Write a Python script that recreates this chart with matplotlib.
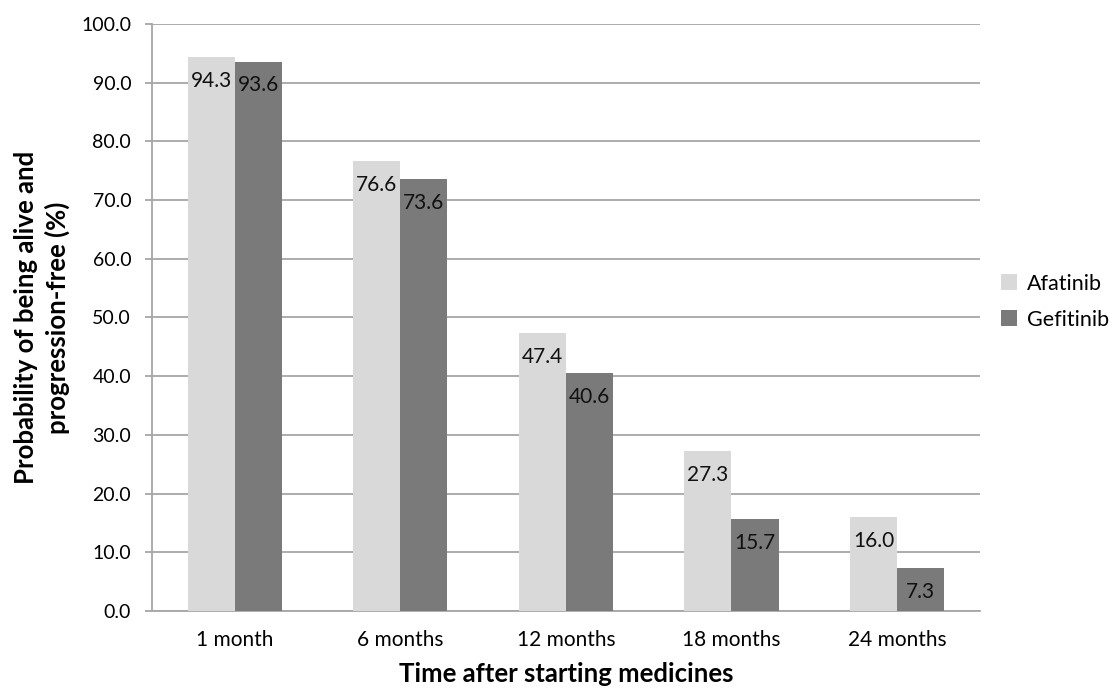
import numpy as np
import matplotlib.pyplot as plt

plt.rcParams['font.family'] = ['Lato', 'DejaVu Sans']

categories = ['1 month', '6 months', '12 months', '18 months', '24 months']
afatinib = [94.3, 76.6, 47.4, 27.3, 16.0]
gefitinib = [93.6, 73.6, 40.6, 15.7, 7.3]

fig = plt.figure(figsize=(11.16, 6.89), dpi=100)
ax = fig.add_axes([0.1362, 0.1132, 0.7418, 0.8520])

x = np.arange(len(categories))
w = 0.284
b1 = ax.bar(x - w / 2, afatinib, w, color='#d9d9d9', label='Afatinib', zorder=3)
b2 = ax.bar(x + w / 2, gefitinib, w, color='#7a7a7a', label='Gefitinib', zorder=3)

# value labels just inside the top of each bar
for bars, vals in ((b1, afatinib), (b2, gefitinib)):
    for r, v in zip(bars, vals):
        ax.annotate(f'{v:.1f}', (r.get_x() + r.get_width() / 2, v),
                    xytext=(0, -10), textcoords='offset points',
                    ha='center', va='top', fontsize=15, color='#111111', zorder=4)

ax.set_xlim(-0.5, len(categories) - 0.5)
ax.set_ylim(0, 100)
ax.set_yticks(np.arange(0, 101, 10))
ax.set_yticklabels([f'{t:.1f}' for t in np.arange(0, 101, 10)])
ax.set_xticks(x)
ax.set_xticklabels(categories)
ax.tick_params(axis='y', labelsize=14, length=5, color='#a6a6a6', width=1.3, pad=10)
ax.tick_params(axis='x', labelsize=15, length=0, pad=14)
ax.yaxis.grid(True, color='#a6a6a6', linewidth=1.3, zorder=0)
ax.set_axisbelow(True)

for s in ('top', 'right'):
    ax.spines[s].set_visible(False)
ax.spines['left'].set_color('#a6a6a6')
ax.spines['bottom'].set_color('#a6a6a6')
ax.spines['left'].set_linewidth(1.3)
ax.spines['bottom'].set_linewidth(1.3)

ax.set_xlabel('Time after starting medicines', fontsize=18.5, fontweight='bold', labelpad=8)
ax.set_ylabel('Probability of being alive and\nprogression-free (%)', fontsize=18.5,
              fontweight='bold', labelpad=8, linespacing=1.3)

ax.legend(loc='center left', bbox_to_anchor=(0.897, 0.562),
          bbox_transform=fig.transFigure, frameon=False, borderpad=0,
          borderaxespad=0, fontsize=15.5, handlelength=0.75, handleheight=0.75,
          labelspacing=0.75, handletextpad=0.45)

fig.savefig('out.png', dpi=100)
